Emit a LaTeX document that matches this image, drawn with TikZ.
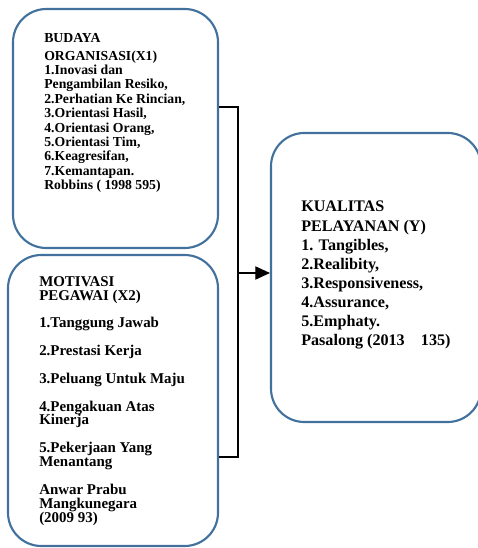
\documentclass[tikz,border=0pt]{standalone}
\usepackage{fontspec}
\setmainfont{Liberation Serif}
\usetikzlibrary{arrows.meta,calc}
\definecolor{boxblue}{HTML}{41719C}
\tikzset{
  rbox/.style={draw=boxblue, line width=1.6pt, rounded corners=25pt, fill=none, inner sep=0pt},
  txt/.style={anchor=north west, inner sep=0pt, align=left, font=\bfseries},
  conn/.style={draw=black, line width=0.8pt},
}
\begin{document}
\begin{tikzpicture}[x=0.75pt,y=-0.75pt]
\useasboundingbox (0,0) rectangle (477,548);
% boxes
\node[rbox, minimum width=205*0.75pt, minimum height=239*0.75pt] (b1) at (115.5,128.5) {};
\node[rbox, minimum width=210*0.75pt, minimum height=291*0.75pt] (b2) at (113,400.5) {};
\node[rbox, minimum width=210*0.75pt, minimum height=289*0.75pt] (b3) at (376,277.5) {};
% texts
\node[txt, font=\bfseries\fontsize{10.3}{10.8}\selectfont] (t1) at (44,33) {BUDAYA\\[2.5pt]
ORGANISASI(X1)\\
1.Inovasi dan\\
Pengambilan Resiko,\\
2.Perhatian Ke Rincian,\\
3.Orientasi Hasil,\\
4.Orientasi Orang,\\
5.Orientasi Tim,\\
6.Keagresifan,\\
7.Kemantapan.\\
Robbins ( 1998 595)};
\node[txt, font=\bfseries\fontsize{11.2}{10.4}\selectfont] (t2) at (39,276) {MOTIVASI\\
PEGAWAI (X2)\\[10.5pt]
1.Tanggung Jawab\\[10.4pt]
2.Prestasi Kerja\\[10.4pt]
3.Peluang Untuk Maju\\[10.4pt]
4.Pengakuan Atas\\
Kinerja\\[10.4pt]
5.Pekerjaan Yang\\
Menantang\\[10.4pt]
Anwar Prabu\\
Mangkunegara\\
(2009 93)};
\node[txt, font=\bfseries\fontsize{12.1}{14.2}\selectfont] (t3) at (301,201) {KUALITAS\\[0.8pt]
PELAYANAN (Y)\\
1. Tangibles,\\
2.Realibity,\\
3.Responsiveness,\\
4.Assurance,\\
5.Emphaty.\\
Pasalong (2013\quad 135)};
% connectors
\coordinate (j1) at (238,107);
\coordinate (j2) at (238,457);
\coordinate (j3) at (238,273);
\draw[conn] (j1 -| b1.east) -- (j1) -- (j2) -- (j2 -| b2.east);
\draw[conn, -{Triangle[length=11pt,width=10pt]}] (j3) -- (j3 -| b3.west);
\end{tikzpicture}
\end{document}
